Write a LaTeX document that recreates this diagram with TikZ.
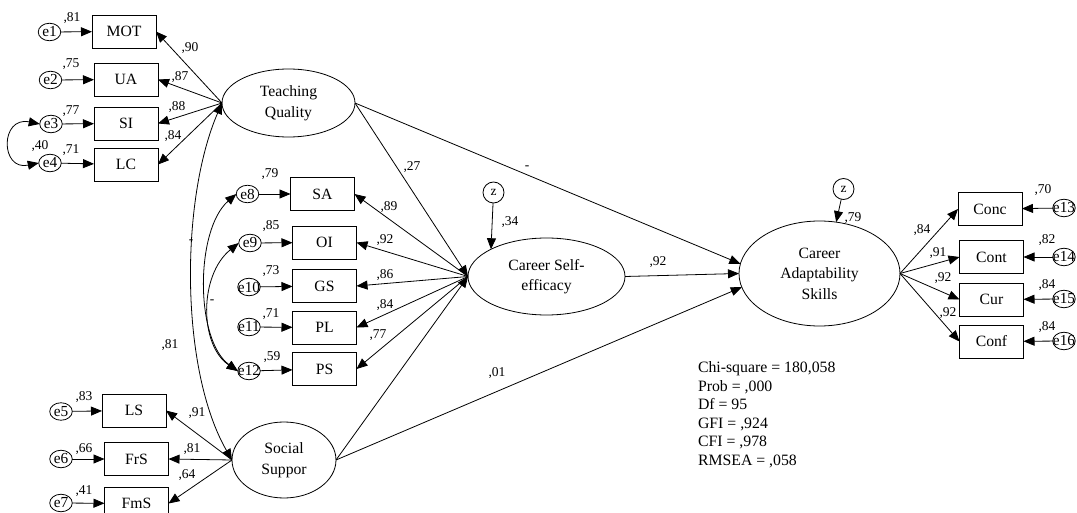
\documentclass[tikz,border=0pt]{standalone}
\usepackage{fontspec}
\setmainfont{Liberation Serif}
\usetikzlibrary{arrows.meta,shapes.geometric}
\tikzset{
  every node/.style={inner sep=0pt, outer sep=0pt},
  box/.style={draw, rectangle, line width=0.8pt, minimum width=64pt, minimum height=33pt, font=\fontsize{15.7}{18}\selectfont},
  errtext/.style={font=\fontsize{15.3}{16}\selectfont},
  err/.style={draw, ellipse, line width=0.8pt, minimum width=22.5pt, minimum height=17.5pt, label={[errtext]center:#1}},
  dist/.style={draw, circle, line width=0.8pt, minimum size=21pt, font=\fontsize{13.5}{15}\selectfont},
  lat/.style={draw, ellipse, line width=0.8pt, align=center, font=\fontsize{15.7}{20.5}\selectfont},
  lab/.style={font=\fontsize{13.5}{15}\selectfont},
  stat/.style={anchor=west, text height=11pt, text depth=3pt, font=\fontsize{15.8}{18}\selectfont},
  arr/.style={line width=0.8pt, -{Triangle[length=11pt,width=9pt]}},
  cov/.style={line width=0.8pt, {Triangle[length=11pt,width=9pt]}-{Triangle[length=11pt,width=9pt]}},
}
\begin{document}
\begin{tikzpicture}[x=1pt,y=-1pt]
\useasboundingbox (0,0) rectangle (1077,513);
\fill[white] (0,0) rectangle (1077,513);
\clip (0,0) rectangle (1077,513);

% latent variables
\node[lat, minimum width=133pt, minimum height=68pt] (TQ) at (288.5,103) {Teaching\\Quality};
\node[lat, minimum width=157pt, minimum height=77pt] (CSE) at (546.5,276.5) {Career Self-\\efficacy};
\node[lat, minimum width=161pt, minimum height=105pt] (CAS) at (819.5,273.5) {Career\\Adaptability\\Skills};
\node[lat, minimum width=104pt, minimum height=76pt] (SS) at (284,460) {Social\\Suppor};

% disturbances
\node[dist] (z1) at (493.5,192.5) {z};
\node[dist] (z2) at (843.5,189) {z};

% indicator boxes
\node[box] (MOT) at (124,31.5) {MOT};
\node[box] (UA) at (126,79.5) {UA};
\node[box] (SI) at (126,123.5) {SI};
\node[box] (LC) at (126,164.5) {LC};
\node[box] (SA) at (322.5,194) {SA};
\node[box] (OI) at (324.5,242.5) {OI};
\node[box] (GS) at (324.5,286) {GS};
\node[box] (PL) at (324.5,327.5) {PL};
\node[box] (PS) at (324.5,369) {PS};
\node[box] (LS) at (134,410.5) {LS};
\node[box] (FrS) at (136.5,459) {FrS};
\node[box] (FmS) at (136.5,503.5) {FmS};
\node[box] (Conc) at (990,209) {Conc};
\node[box] (Cont) at (991.5,257) {Cont};
\node[box] (Cur) at (991.5,299.5) {Cur};
\node[box] (Conf) at (991.5,341.5) {Conf};

% error terms
\node[err=e1] (e1) at (49.5,32) {};
\node[err=e2] (e2) at (50.5,80) {};
\node[err=e3] (e3) at (51,124) {};
\node[err=e4] (e4) at (50,163) {};
\node[err=e8] (e8) at (247.5,194) {};
\node[err=e9] (e9) at (250,243) {};
\node[err=e10] (e10) at (249,287) {};
\node[err=e11] (e11) at (249,327) {};
\node[err=e12] (e12) at (249,371) {};
\node[err=e5] (e5) at (61,411.5) {};
\node[err=e6] (e6) at (61,459) {};
\node[err=e7] (e7) at (61,503) {};
\node[err=e13] (e13) at (1064,208) {};
\node[err=e14] (e14) at (1064,257) {};
\node[err=e15] (e15) at (1064,299) {};
\node[err=e16] (e16) at (1064,341) {};

% error arrows
\draw[arr] (e1) -- (MOT);
\draw[arr] (e2) -- (UA);
\draw[arr] (e3) -- (SI);
\draw[arr] (e4) -- (LC);
\draw[arr] (e8) -- (SA);
\draw[arr] (e9) -- (OI);
\draw[arr] (e10) -- (GS);
\draw[arr] (e11) -- (PL);
\draw[arr] (e12) -- (PS);
\draw[arr] (e5) -- (LS);
\draw[arr] (e6) -- (FrS);
\draw[arr] (e7) -- (FmS);
\draw[arr] (e13) -- (Conc);
\draw[arr] (e14) -- (Cont);
\draw[arr] (e15) -- (Cur);
\draw[arr] (e16) -- (Conf);

% loadings
\draw[arr] (TQ.west) -- (MOT.east);
\draw[arr] (TQ.west) -- (UA.east);
\draw[arr] (TQ.west) -- (SI.east);
\draw[arr] (TQ.west) -- (LC.east);
\draw[arr] (CSE.west) -- (SA.east);
\draw[arr] (CSE.west) -- (OI.east);
\draw[arr] (CSE.west) -- (GS.east);
\draw[arr] (CSE.west) -- (PL.east);
\draw[arr] (CSE.west) -- (PS.east);
\draw[arr] (SS.west) -- (LS.east);
\draw[arr] (SS.west) -- (FrS.east);
\draw[arr] (SS.west) -- (FmS.east);
\draw[arr] (CAS.east) -- (Conc.west);
\draw[arr] (CAS.east) -- (Cont.west);
\draw[arr] (CAS.east) -- (Cur.west);
\draw[arr] (CAS.east) -- (Conf.west);

% structural paths
\draw[arr] (TQ.east) -- (CSE.west);
\draw[arr] (TQ.east) -- (CAS.173);
\draw[arr] (SS.east) -- (CSE.west);
\draw[arr] (SS.east) -- (CAS.190);
\draw[arr] (CSE.east) -- (CAS.west);
\draw[arr] (z1) -- (CSE.north west);
\draw[arr] (z2) -- (CAS.72);

% covariances
\draw[cov] (e3.west) .. controls (0,116) and (0,171) .. (e4.west);
\draw[cov] (TQ.west) .. controls (180,200) and (180,370) .. (SS.west);
\draw[cov] (e8.west) .. controls (195,230) and (195,340) .. (e12.west);
\draw[cov] (e9.west) .. controls (199,275) and (199,345) .. (e12.west);

% labels
\node[lab] (l1) at (72,18) {,81};
\node[lab] (l2) at (71,64) {,75};
\node[lab] (l3) at (71,111) {,77};
\node[lab] (l4) at (40,146) {,40};
\node[lab] (l5) at (71,150) {,71};
\node[lab] (l6) at (190,48) {,90};
\node[lab] (l7) at (180,77) {,87};
\node[lab] (l8) at (177,107) {,88};
\node[lab] (l9) at (173,136) {,84};
\node[lab] (l10) at (270,174) {,79};
\node[lab] (l11) at (271,226) {,85};
\node[lab] (l12) at (271,271) {,73};
\node[lab] (l13) at (271,314) {,71};
\node[lab] (l14) at (272,357) {,59};
\node[lab] (l15) at (389,207) {,89};
\node[lab] (l16) at (385,240) {,92};
\node[lab] (l17) at (385,275) {,86};
\node[lab] (l18) at (385,305) {,84};
\node[lab] (l19) at (378,335) {,77};
\node[lab] (l20) at (212,302) {-};
\node[lab] (l21) at (191,242) {-};
\node[lab] (l22) at (170,345) {,81};
\node[lab] (l23) at (412,167) {,27};
\node[lab] (l24) at (527,168) {-};
\node[lab] (l25) at (510,222) {,34};
\node[lab] (l26) at (658,262) {,92};
\node[lab] (l27) at (497,373) {,01};
\node[lab] (l28) at (853,218) {,79};
\node[lab] (l29) at (922,230) {,84};
\node[lab] (l30) at (938,253) {,91};
\node[lab] (l31) at (943,278) {,92};
\node[lab] (l32) at (948,313) {,92};
\node[lab] (l33) at (1043,190) {,70};
\node[lab] (l34) at (1047,240) {,82};
\node[lab] (l35) at (1047,285) {,84};
\node[lab] (l36) at (1047,327) {,84};
\node[lab] (l37) at (84,397) {,83};
\node[lab] (l38) at (84,449) {,66};
\node[lab] (l39) at (84,491) {,41};
\node[lab] (l40) at (197,413) {,91};
\node[lab] (l41) at (192,449) {,81};
\node[lab] (l42) at (187,475) {,64};

% fit statistics
\node[stat] (s1) at (698,368) {Chi-square = 180,058};
\node[stat] (s2) at (698,387) {Prob = ,000};
\node[stat] (s3) at (698,405) {Df = 95};
\node[stat] (s4) at (698,424) {GFI = ,924};
\node[stat] (s5) at (698,442) {CFI = ,978};
\node[stat] (s6) at (698,461) {RMSEA = ,058};
\end{tikzpicture}
\end{document}
